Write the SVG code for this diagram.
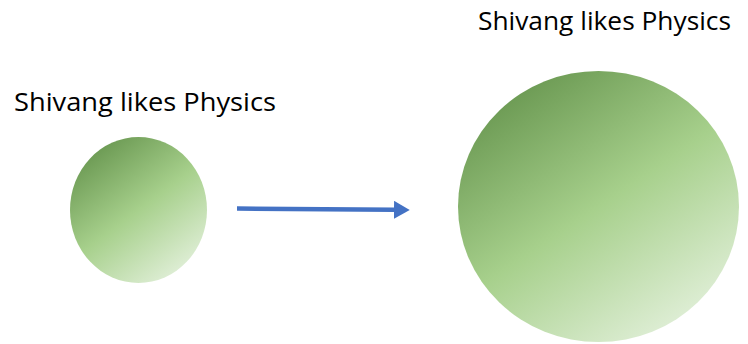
<svg xmlns="http://www.w3.org/2000/svg" width="748" height="344" viewBox="0 0 748 344">
<style>
.lbl{font-family:"Open Sans","Liberation Sans",sans-serif;font-size:25.5px;fill:#000}
</style>
<defs>
<linearGradient id="g" x1="0.15" y1="0" x2="0.85" y2="1">
<stop offset="0" stop-color="#62914A"/>
<stop offset="0.5" stop-color="#A7D08C"/>
<stop offset="1" stop-color="#E8F3E2"/>
</linearGradient>
<marker id="ah" markerWidth="4" markerHeight="4" refX="0" refY="2" orient="auto" markerUnits="strokeWidth">
<path d="M0,0 L3.5,2 L0,4 Z" fill="#4472C4"/>
</marker>
</defs>
<g id="node-small">
<ellipse cx="138.5" cy="210" rx="68.5" ry="73" fill="url(#g)"/>
<text class="lbl" x="14" y="110.5" textLength="262" lengthAdjust="spacingAndGlyphs">Shivang likes Physics</text>
</g>
<g id="node-large">
<ellipse cx="598.5" cy="206.5" rx="140.5" ry="135.5" fill="url(#g)"/>
<text class="lbl" x="478" y="30" textLength="253" lengthAdjust="spacingAndGlyphs">Shivang likes Physics</text>
</g>
<g id="connectors">
<line x1="237" y1="208.5" x2="394" y2="209.8" stroke="#4472C4" stroke-width="4.5" marker-end="url(#ah)"/>
</g>
</svg>
